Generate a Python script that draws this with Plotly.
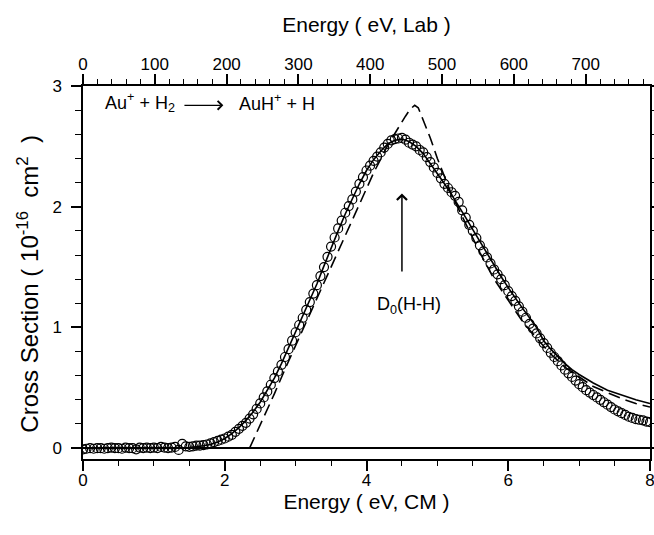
import plotly.graph_objects as go

# ---- measured cross section (open circles) ----
energy_cm = [0.00, 0.05, 0.10, 0.15, 0.20, 0.25, 0.30, 0.35, 0.40, 0.45,
             0.50, 0.55, 0.60, 0.65, 0.70, 0.75, 0.80, 0.85, 0.90, 0.95,
             1.00, 1.05, 1.10, 1.15, 1.20, 1.25, 1.30, 1.35, 1.40, 1.45,
             1.50, 1.55, 1.60, 1.65, 1.70, 1.75, 1.80, 1.85, 1.90, 1.95,
             2.00, 2.05, 2.10, 2.15, 2.20, 2.25, 2.30, 2.35, 2.40, 2.45,
             2.50, 2.55, 2.60, 2.65, 2.70, 2.75, 2.80, 2.85, 2.90, 2.95,
             3.00, 3.05, 3.10, 3.15, 3.20, 3.25, 3.30, 3.35, 3.40, 3.45,
             3.50, 3.55, 3.60, 3.65, 3.70, 3.75, 3.80, 3.85, 3.90, 3.95,
             4.00, 4.05, 4.10, 4.15, 4.20, 4.25, 4.30, 4.35, 4.40, 4.45,
             4.50, 4.55, 4.60, 4.65, 4.70, 4.75, 4.80, 4.85, 4.90, 4.95,
             5.00, 5.05, 5.10, 5.15, 5.20, 5.25, 5.30, 5.35, 5.40, 5.45,
             5.50, 5.55, 5.60, 5.65, 5.70, 5.75, 5.80, 5.85, 5.90, 5.95,
             6.00, 6.05, 6.10, 6.15, 6.20, 6.25, 6.30, 6.35, 6.40, 6.45,
             6.50, 6.55, 6.60, 6.65, 6.70, 6.75, 6.80, 6.85, 6.90, 6.95,
             7.00, 7.05, 7.10, 7.15, 7.20, 7.25, 7.30, 7.35, 7.40, 7.45,
             7.50, 7.55, 7.60, 7.65, 7.70, 7.75, 7.80, 7.85, 7.90, 7.95,
             8.00]
cross_section = [-0.010, -0.005, 0.000, -0.005, 0.000, 0.000, -0.005, 0.000, 0.005, 0.000,
                 0.000, -0.005, 0.005, 0.000, 0.000, -0.010, 0.005, 0.000, 0.005, 0.000,
                 0.005, 0.000, 0.010, 0.005, 0.000, 0.005, 0.010, -0.015, 0.035, 0.015,
                 0.010, 0.015, 0.020, 0.020, 0.025, 0.030, 0.040, 0.050, 0.060, 0.070,
                 0.080, 0.095, 0.110, 0.135, 0.160, 0.185, 0.210, 0.245, 0.280, 0.325,
                 0.370, 0.420, 0.470, 0.525, 0.580, 0.635, 0.690, 0.755, 0.820, 0.890,
                 0.960, 1.020, 1.080, 1.145, 1.210, 1.280, 1.350, 1.425, 1.500, 1.585,
                 1.670, 1.745, 1.820, 1.885, 1.950, 2.005, 2.060, 2.125, 2.190, 2.245,
                 2.300, 2.340, 2.380, 2.415, 2.450, 2.490, 2.520, 2.550, 2.560, 2.565,
                 2.570, 2.555, 2.530, 2.515, 2.500, 2.470, 2.450, 2.410, 2.370, 2.325,
                 2.280, 2.235, 2.190, 2.155, 2.120, 2.090, 2.040, 1.970, 1.910, 1.850,
                 1.800, 1.740, 1.680, 1.630, 1.580, 1.530, 1.480, 1.440, 1.400, 1.350,
                 1.300, 1.260, 1.220, 1.175, 1.130, 1.080, 1.030, 0.990, 0.950, 0.910,
                 0.870, 0.830, 0.790, 0.755, 0.720, 0.685, 0.650, 0.620, 0.590, 0.560,
                 0.530, 0.505, 0.480, 0.460, 0.440, 0.420, 0.400, 0.380, 0.360, 0.340,
                 0.320, 0.305, 0.290, 0.275, 0.260, 0.250, 0.240, 0.235, 0.230, 0.220,
                 0.215]

# ---- convoluted model (solid line) ----
fit_x = [0.0, 1.0, 1.5, 1.7, 1.8, 1.9, 2.0, 2.1, 2.2, 2.3, 2.4, 2.5, 2.6, 2.7, 2.8, 2.9,
         3.0, 3.1, 3.2, 3.3, 3.4, 3.5, 3.6, 3.7, 3.8, 3.9, 4.0, 4.1, 4.2, 4.3, 4.4,
         4.5, 4.6, 4.7, 4.8, 4.9, 5.0, 5.1, 5.2, 5.3, 5.4, 5.5, 5.6, 5.7, 5.8, 5.9,
         6.0, 6.1, 6.2, 6.3, 6.4, 6.5, 6.6, 6.7, 6.8, 6.9, 7.0, 7.2, 7.4, 7.6, 7.8, 8.0]
fit_y = [0.00, 0.00, 0.005, 0.02, 0.03, 0.05, 0.08, 0.12, 0.17, 0.23, 0.30, 0.38, 0.48, 0.58, 0.70, 0.83,
         0.96, 1.09, 1.22, 1.36, 1.51, 1.66, 1.80, 1.94, 2.07, 2.19, 2.30, 2.39, 2.46, 2.52, 2.55,
         2.56, 2.54, 2.50, 2.44, 2.36, 2.28, 2.19, 2.10, 2.01, 1.91, 1.81, 1.71, 1.61, 1.51, 1.42,
         1.33, 1.24, 1.16, 1.08, 1.00, 0.89, 0.82, 0.76, 0.70, 0.65, 0.61, 0.54, 0.48, 0.44, 0.40, 0.37]

# ---- unconvoluted model (dashed line) ----
model_x = [2.35, 2.5, 2.7, 2.9, 3.1, 3.3, 3.5, 3.7, 3.9, 4.1, 4.3, 4.45, 4.55, 4.62, 4.68,
           4.73, 4.8, 4.9, 5.0, 5.1, 5.2, 5.3, 5.4, 5.6, 5.8, 6.0, 6.2, 6.4, 6.6, 6.8,
           7.0, 7.2, 7.4, 7.6, 7.8, 8.0]
model_y = [0.00, 0.19, 0.45, 0.72, 0.98, 1.25, 1.51, 1.77, 2.03, 2.28, 2.51, 2.66, 2.75, 2.81, 2.84,
           2.82, 2.72, 2.57, 2.40, 2.25, 2.10, 1.98, 1.86, 1.62, 1.40, 1.22, 1.05, 0.91, 0.78, 0.67,
           0.59, 0.51, 0.46, 0.41, 0.37, 0.34]

x_major = [0, 2, 4, 6, 8]
y_major = [0, 1, 2, 3]
lab_ticks = [0, 100, 200, 300, 400, 500, 600, 700]
lab_per_cm = 98.7  # (m_Au + m_H2) / m_H2

X_RANGE = [0, 8]
Y_RANGE = [-0.09, 3]
LAB_RANGE = [0, 8 * lab_per_cm]

FONT = "Liberation Sans, Arial, sans-serif"
INK = "#000000"

fig = go.Figure()
fig.add_trace(go.Scatter(x=fit_x, y=fit_y, mode="lines", line=dict(color=INK, width=1.6),
                         showlegend=False, hoverinfo="skip"))
fig.add_trace(go.Scatter(x=model_x, y=model_y, mode="lines",
                         line=dict(color=INK, width=1.6, dash="12px,6px"),
                         showlegend=False, hoverinfo="skip"))
fig.add_trace(go.Scatter(x=energy_cm, y=cross_section, mode="markers",
                         marker=dict(symbol="circle-open", size=9, color=INK, line=dict(width=1.2, color=INK)),
                         showlegend=False))
# invisible copy of the data in the lab frame so that the top axis is drawn
lab_energy = [e * lab_per_cm for e in energy_cm]
fig.add_trace(go.Scatter(x=lab_energy, y=cross_section, mode="none", xaxis="x2", yaxis="y",
                         showlegend=False, hoverinfo="skip"))

major_common = dict(showgrid=False, showline=True, linecolor=INK, linewidth=1.5, automargin=False,
                    ticks="outside", tickcolor=INK, tickwidth=1.6, ticklen=10,
                    ticklabeloverflow="allow",
                    tickfont=dict(family=FONT, size=17, color=INK), tickmode="array")

def minor_spec(step, length):
    return dict(tick0=0, dtick=step, ticks="outside", ticklen=length, tickwidth=1.4,
                tickcolor=INK, showgrid=False)

fig.update_layout(
    template="none",
    width=654, height=535,
    margin=dict(l=83, r=4, t=86, b=76, autoexpand=False),
    paper_bgcolor="white", plot_bgcolor="white",
    font=dict(family=FONT, color=INK),
    xaxis=dict(range=X_RANGE, tickvals=x_major, zeroline=False, anchor="y",
               ticklabelstandoff=-5, minor=minor_spec(0.5, 5),
               title=dict(text="Energy ( eV, CM )", font=dict(size=21, family=FONT, color=INK), standoff=3),
               **major_common),
    xaxis2=dict(range=LAB_RANGE, tickvals=lab_ticks, overlaying="x",
                side="top", anchor="y", zeroline=False, ticklabelstandoff=-3,
                minor=minor_spec(20, 5),
                title=dict(text="Energy ( eV, Lab )", font=dict(size=21, family=FONT, color=INK), standoff=17),
                **major_common),
    yaxis=dict(range=Y_RANGE, tickvals=y_major, mirror="ticks",
               zeroline=True, zerolinecolor=INK, zerolinewidth=1.5,
               ticklabelstandoff=6, minor=minor_spec(0.2, 6),
               **major_common),
)

# y-axis title (placed as rotated text so it sits where the reference has it)
fig.add_annotation(x=-0.097, y=0.47, xref="paper", yref="paper", textangle=-90,
                   text="Cross Section (\u00a010<sup>-16</sup>\u00a0\u00a0cm<sup>2</sup>\u00a0\u00a0)",
                   showarrow=False, xanchor="center", yanchor="middle",
                   font=dict(size=24, family=FONT, color=INK))

ann_font = dict(family=FONT, size=18, color=INK)
fig.add_annotation(x=0.28, y=2.86, xref="x", yref="y", text="Au<sup>+</sup> + H<sub>2</sub>",
                   showarrow=False, xanchor="left", yanchor="middle", font=ann_font)
fig.add_annotation(x=1.98, y=2.84, ax=1.41, ay=2.84, xref="x", yref="y", axref="x", ayref="y",
                   text="", showarrow=True, arrowhead=4, arrowsize=1.3, arrowwidth=1.3, arrowcolor=INK)
fig.add_annotation(x=2.17, y=2.86, xref="x", yref="y", text="AuH<sup>+</sup> + H",
                   showarrow=False, xanchor="left", yanchor="middle", font=ann_font)
fig.add_annotation(x=4.50, y=2.11, ax=4.50, ay=1.45, xref="x", yref="y", axref="x", ayref="y",
                   text="", showarrow=True, arrowhead=4, arrowsize=1.3, arrowwidth=1.5, arrowcolor=INK)
fig.add_annotation(x=4.60, y=1.18, xref="x", yref="y", text="D<sub>0</sub>(H-H)",
                   showarrow=False, xanchor="center", yanchor="middle", font=ann_font)

fig.write_html("out.html")
